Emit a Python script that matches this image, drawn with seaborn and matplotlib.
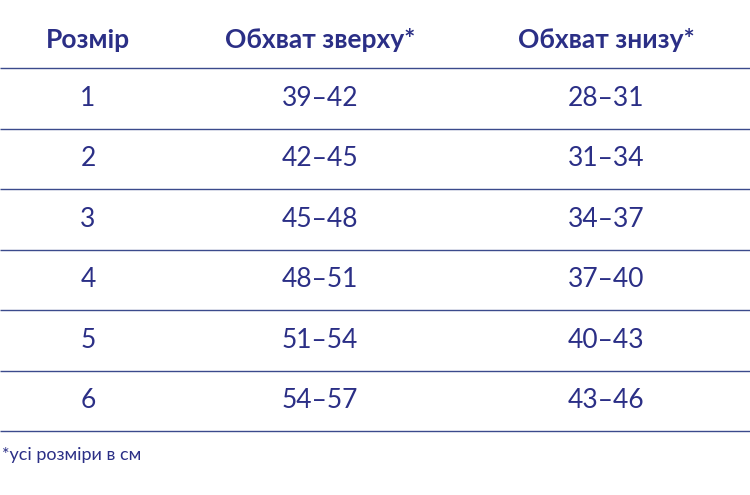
import matplotlib
matplotlib.use("Agg")
import matplotlib.pyplot as plt
import seaborn as sns

headers = ["Розмір", "Обхват зверху*", "Обхват знизу*"]
sizes = ["1", "2", "3", "4", "5", "6"]
top_girth = ["39–42", "42–45", "45–48", "48–51", "51–54", "54–57"]
bottom_girth = ["28–31", "31–34", "34–37", "37–40", "40–43", "43–46"]
footnote = "*усі розміри в см"

sns.set_style("white")
plt.rcParams["font.family"] = ["Lato", "DejaVu Sans"]

color = "#2b2f86"
line_color = "#3b4a8c"

fig = plt.figure(figsize=(7.5, 4.95), dpi=100)
ax = fig.add_axes([0, 0, 1, 1])
ax.set_xlim(0, 750)
ax.set_ylim(495, 0)
ax.axis("off")

col_x = [88, 320, 606]
num_x = [88, 320, 606]
header_y = 40
row_h = 60.5
first_line = 68

for x, h in zip(col_x, headers):
    ax.text(x, header_y, h, ha="center", va="center", fontsize=19,
            fontweight="bold", color=color)

ax.hlines([first_line + i * row_h for i in range(len(sizes) + 1)], 0, 750,
          color=line_color, linewidth=1.0)

for i, row in enumerate(zip(sizes, top_girth, bottom_girth)):
    y = first_line + (i + 0.5) * row_h
    for x, val in zip(num_x, row):
        ax.text(x, y, val, ha="center", va="center", fontsize=19, color=color)

ax.text(2, 455, footnote, ha="left", va="center", fontsize=13, color=color)

fig.savefig("out.png", dpi=100)
